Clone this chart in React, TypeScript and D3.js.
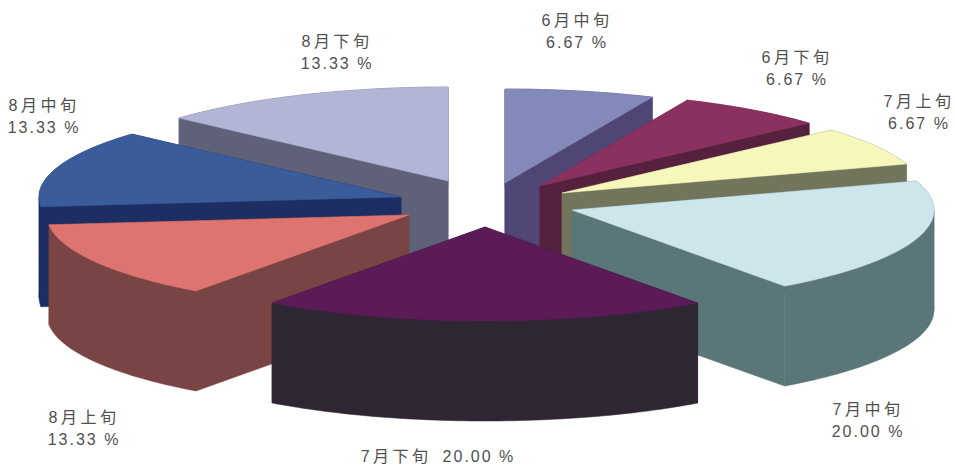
import React from "react";
import * as d3 from "d3";

const WIDTH = 955;
const HEIGHT = 466;

// Share of each ten-day period, clockwise from twelve o'clock.
const periods = ["6月中旬", "6月下旬", "7月上旬", "7月中旬", "7月下旬", "8月上旬", "8月中旬", "8月下旬"];
const shares = [6.67, 6.67, 6.67, 20.0, 20.0, 13.33, 13.33, 13.33];
const topColors = ["#8389b9", "#8b3160", "#f8f7bb", "#cde6ec", "#5a1b56", "#de7470", "#3a5c9a", "#b3b5d7"];
const sideColors = ["#4f4675", "#55213f", "#72755c", "#5a7678", "#2e2633", "#784444", "#1c2e62", "#5e6178"];

// Exploded slice hubs on the page, and where each label sits.
const hubX = [505, 540, 562, 572, 485, 409, 401, 448];
const hubY = [183, 186, 193, 210, 227, 215, 197, 181];
const labelX = [577, 797, 919, 868, 438, 84, 44, 337];
const labelY = [26, 63, 107, 415, 462, 423, 111, 47];

// Back slices are painted first so the nearer ones overlap them.
const paintOrder = [0, 7, 1, 6, 2, 5, 3, 4];

const RADIUS_X = 362;
const RADIUS_Y = 94;
const DEPTH = 100;
const LINE_GAP = 22;
const FONT = "'Liberation Sans', 'Noto Sans CJK SC', sans-serif";

type Pt = [number, number];

const arcs = d3.pie<number>().sort(null).value((d) => d)(shares);
const toPath = d3.line<Pt>();

function rimPoints(i: number): Pt[] {
  const { startAngle, endAngle } = arcs[i];
  return d3.range(0, 61).map((k) => {
    const a = startAngle + ((endAngle - startAngle) * k) / 60;
    return [hubX[i] + RADIUS_X * Math.sin(a), hubY[i] - RADIUS_Y * Math.cos(a)];
  });
}

const lowered = (p: Pt): Pt => [p[0], p[1] + DEPTH];

// Splits the rim where it turns back horizontally, so every band stays a simple polygon.
function monotoneRuns(rim: Pt[]): Pt[][] {
  const runs: Pt[][] = [[rim[0]]];
  rim.slice(1).forEach((p, k) => {
    const run = runs[runs.length - 1];
    if (run.length > 1) {
      const prevDir = Math.sign(run[run.length - 1][0] - run[run.length - 2][0]);
      if (Math.sign(p[0] - rim[k][0]) !== prevDir) {
        runs.push([rim[k], p]);
        return;
      }
    }
    run.push(p);
  });
  return runs;
}

function Slice({ index }: { index: number }) {
  const rim = rimPoints(index);
  const hub: Pt = [hubX[index], hubY[index]];
  const first = rim[0];
  const last = rim[rim.length - 1];
  // The slice wall: the two cut faces plus the curved outer band.
  const walls: Pt[][] = [
    [hub, first, lowered(first), lowered(hub)],
    [hub, last, lowered(last), lowered(hub)],
    ...monotoneRuns(rim).map((run) => [...run, ...run.slice().reverse().map(lowered)]),
  ];
  const side = sideColors[index];
  const top = topColors[index];
  return (
    <g>
      {walls.map((w, k) => (
        <path key={k} d={toPath(w) + "Z"} fill={side} stroke={side} strokeWidth={0.5} />
      ))}
      <path d={toPath([hub, ...rim]) + "Z"} fill={top} stroke={top} strokeWidth={0.5} />
    </g>
  );
}

function Label({ index }: { index: number }) {
  const pct = `${d3.format(".2f")(shares[index])} %`;
  const common = {
    x: labelX[index],
    textAnchor: "middle" as const,
    fill: "#505050",
    fontSize: 16,
    fontFamily: FONT,
  };
  // The front slice carries its label on a single line.
  if (periods[index] === "7月下旬") {
    return (
      <text {...common} y={labelY[index]} letterSpacing={2}>
        <tspan letterSpacing={3.5}>{periods[index]}</tspan>
        <tspan dx={11}>{pct}</tspan>
      </text>
    );
  }
  return (
    <g>
      <text {...common} y={labelY[index]} letterSpacing={3.5}>{periods[index]}</text>
      <text {...common} y={labelY[index] + LINE_GAP} letterSpacing={2}>{pct}</text>
    </g>
  );
}

export default function App() {
  return (
    <svg
      width={WIDTH}
      height={HEIGHT}
      viewBox={`0 0 ${WIDTH} ${HEIGHT}`}
      style={{ position: "absolute", left: 0, top: 0, background: "#fff" }}
    >
      {paintOrder.map((i) => (
        <Slice key={i} index={i} />
      ))}
      {periods.map((_, i) => (
        <Label key={i} index={i} />
      ))}
    </svg>
  );
}
